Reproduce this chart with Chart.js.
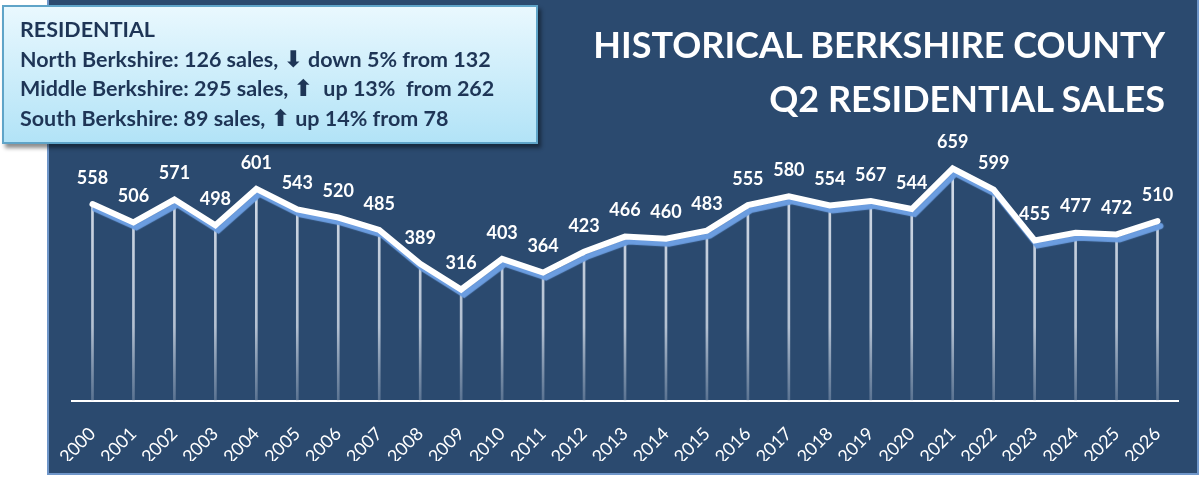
<!DOCTYPE html>
<html lang="en">

<head>
    <meta charset="UTF-8">
    <title>Historical Berkshire County Q2 Residential Sales</title>
    <style>
        * {
            margin: 0;
            padding: 0;
            box-sizing: border-box;
        }

        body {
            width: 1200px;
            height: 477px;
            background-color: #fff;
            position: relative;
            overflow: hidden;
            font-family: Lato, "Open Sans", sans-serif;
        }

        .panel {
            position: absolute;
            left: 47px;
            top: 0;
            width: 1152px;
            height: 475px;
            background-color: #2b4a6f;
            border: 2px solid #6f96c9;
            border-top: none;
        }

        #salesChart {
            position: absolute;
            left: 0;
            top: 0;
        }

        .title {
            position: absolute;
            right: 35px;
            top: 17px;
            color: #fff;
            font-weight: bold;
            font-size: 36px;
            line-height: 54px;
            text-align: right;
        }

        .info {
            position: absolute;
            left: 2px;
            top: 5px;
            width: 536px;
            height: 139px;
            background: linear-gradient(#e9f8fe, #b2e3f7);
            border: 2px solid #5fa4c8;
            box-shadow: 3px 4px 4px rgba(0, 0, 0, 0.45);
            color: #1e3556;
            font-weight: bold;
            font-size: 21.5px;
            line-height: 29.5px;
            padding: 8px 0 0 16px;
            white-space: nowrap;
        }

        .arrow {
            font-family: "DejaVu Sans", sans-serif;
            font-size: 23px;
            line-height: 20px;
        }
    </style>
</head>

<body>
    <div class="panel"></div>
    <canvas id="salesChart" width="1200" height="477"></canvas>
    <div class="title">HISTORICAL BERKSHIRE COUNTY<br>Q2 RESIDENTIAL SALES</div>
    <div class="info">
        RESIDENTIAL<br>
        North Berkshire: 126 sales, <span class="arrow">⬇</span> down 5% from 132<br>
        Middle Berkshire: 295 sales, <span class="arrow">⬆</span>&nbsp; up 13% &nbsp;from 262<br>
        South Berkshire: 89 sales, <span class="arrow">⬆</span> up 14% from 78
    </div>

    <script src="https://cdn.jsdelivr.net/npm/chart.js"></script>
    <script>
        const years = ['2000', '2001', '2002', '2003', '2004', '2005', '2006', '2007', '2008', '2009',
            '2010', '2011', '2012', '2013', '2014', '2015', '2016', '2017', '2018', '2019',
            '2020', '2021', '2022', '2023', '2024', '2025', '2026'];
        const sales = [558, 506, 571, 498, 601, 543, 520, 485, 389, 316,
            403, 364, 423, 466, 460, 483, 555, 580, 554, 567,
            544, 659, 599, 455, 477, 472, 510];

        // blue offset shadow under the white line
        const lineShadow = {
            id: 'lineShadow',
            beforeDatasetDraw(chart, args) {
                if (args.index !== 0) return;
                const ctx = chart.ctx;
                ctx.save();
                ctx.shadowColor = '#6b9de0';
                ctx.shadowOffsetX = 3;
                ctx.shadowOffsetY = 5;
                ctx.shadowBlur = 1;
            },
            afterDatasetDraw(chart, args) {
                if (args.index !== 0) return;
                chart.ctx.restore();
            }
        };

        // value labels above each point
        const valueLabels = {
            id: 'valueLabels',
            afterDatasetsDraw(chart) {
                const ctx = chart.ctx;
                const meta = chart.getDatasetMeta(0);
                ctx.save();
                ctx.fillStyle = '#fff';
                ctx.font = 'bold 18px Lato';
                ctx.textAlign = 'center';
                ctx.textBaseline = 'middle';
                meta.data.forEach((pt, i) => {
                    ctx.fillText(sales[i], pt.x, pt.y - 26);
                });
                ctx.restore();
            }
        };

        const ctx = document.getElementById('salesChart').getContext('2d');

        new Chart(ctx, {
            data: {
                labels: years,
                datasets: [{
                    type: 'line',
                    data: sales,
                    borderColor: '#fff',
                    borderWidth: 6,
                    borderJoinStyle: 'miter',
                    borderCapStyle: 'round',
                    pointRadius: 0,
                    tension: 0,
                    order: 0
                }, {
                    type: 'bar',
                    data: sales,
                    barThickness: 2,
                    backgroundColor: function(c) {
                        const area = c.chart.chartArea;
                        if (!area) return 'rgba(255,255,255,0.7)';
                        const g = c.chart.ctx.createLinearGradient(0, area.top, 0, area.bottom);
                        g.addColorStop(0, 'rgba(235,240,248,0.9)');
                        g.addColorStop(0.7, 'rgba(225,232,242,0.75)');
                        g.addColorStop(1, 'rgba(200,210,225,0.3)');
                        return g;
                    },
                    order: 1
                }]
            },
            options: {
                responsive: false,
                animation: false,
                events: [],
                layout: {
                    padding: { left: 72, right: 22, top: 154, bottom: 16 }
                },
                plugins: {
                    legend: { display: false },
                    tooltip: { enabled: false }
                },
                scales: {
                    x: {
                        offset: true,
                        grid: { display: false, drawTicks: false },
                        border: { display: true, color: '#fff', width: 2 },
                        ticks: {
                            color: '#fff',
                            font: { family: 'Lato', size: 18 },
                            minRotation: 45,
                            maxRotation: 45,
                            padding: 22
                        },
                        afterFit(scale) {
                            scale.height = 60;
                        }
                    },
                    y: {
                        display: false,
                        min: 0,
                        max: 700
                    }
                }
            },
            plugins: [lineShadow, valueLabels]
        });
    </script>
</body>

</html>
